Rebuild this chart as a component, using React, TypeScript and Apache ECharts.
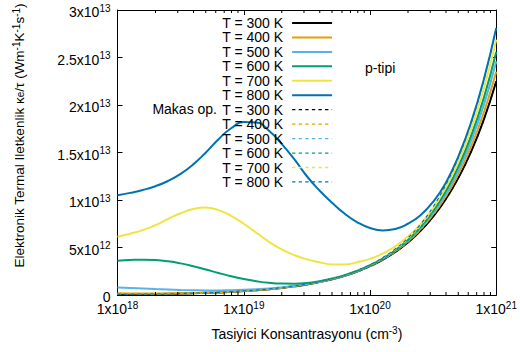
import { useEffect, useRef } from "react";
import * as echarts from "echarts";

// Carrier concentration grid (cm^-3), 0.1-decade steps from 1e18 to 1e21
const CONC = [
  1.0e18, 1.259e18, 1.585e18, 1.995e18, 2.512e18, 3.162e18, 3.981e18, 5.012e18, 6.31e18, 7.943e18,
  1.0e19, 1.259e19, 1.585e19, 1.995e19, 2.512e19, 3.162e19, 3.981e19, 5.012e19, 6.31e19, 7.943e19,
  1.0e20, 1.259e20, 1.585e20, 1.995e20, 2.512e20, 3.162e20, 3.981e20, 5.012e20, 6.31e20, 7.943e20,
  1.0e21,
];

// kappa_e / tau, in units of 1e13 W m^-1 K^-1 s^-1 (solid lines)
const K300 = [0.0055, 0.0067, 0.0082, 0.010, 0.0123, 0.015, 0.0183, 0.0224, 0.0274, 0.0335, 0.041, 0.050, 0.061, 0.075, 0.091, 0.111, 0.136, 0.166, 0.203, 0.248, 0.303, 0.371, 0.453, 0.553, 0.676, 0.826, 1.009, 1.233, 1.507, 1.841, 2.25];
const K400 = [0.018, 0.017, 0.016, 0.016, 0.017, 0.018, 0.020, 0.023, 0.027, 0.033, 0.041, 0.050, 0.061, 0.075, 0.092, 0.112, 0.137, 0.167, 0.204, 0.250, 0.306, 0.375, 0.459, 0.561, 0.688, 0.845, 1.036, 1.272, 1.561, 1.916, 2.351];
const K500 = [0.080, 0.074, 0.068, 0.062, 0.057, 0.053, 0.050, 0.048, 0.048, 0.050, 0.054, 0.060, 0.068, 0.080, 0.095, 0.115, 0.139, 0.169, 0.206, 0.252, 0.309, 0.379, 0.465, 0.570, 0.701, 0.864, 1.065, 1.313, 1.619, 1.994, 2.457];
const K600 = [0.360, 0.368, 0.372, 0.368, 0.355, 0.333, 0.303, 0.268, 0.232, 0.198, 0.168, 0.145, 0.128, 0.120, 0.119, 0.126, 0.146, 0.174, 0.209, 0.257, 0.313, 0.383, 0.470, 0.579, 0.713, 0.883, 1.092, 1.352, 1.673, 2.069, 2.558];
const K700 = [0.614, 0.645, 0.683, 0.735, 0.800, 0.860, 0.905, 0.920, 0.893, 0.833, 0.750, 0.655, 0.560, 0.480, 0.420, 0.375, 0.345, 0.322, 0.322, 0.345, 0.380, 0.435, 0.512, 0.615, 0.746, 0.918, 1.134, 1.405, 1.744, 2.165, 2.687];
const K800 = [1.05, 1.075, 1.105, 1.145, 1.20, 1.275, 1.375, 1.50, 1.64, 1.755, 1.82, 1.815, 1.73, 1.59, 1.43, 1.25, 1.10, 0.97, 0.855, 0.765, 0.705, 0.68, 0.695, 0.75, 0.84, 0.98, 1.18, 1.46, 1.815, 2.26, 2.81];

// "Makas op." (dashed lines)
const M300 = [0.0055, 0.0067, 0.0082, 0.010, 0.0123, 0.015, 0.0183, 0.0224, 0.0274, 0.0335, 0.041, 0.050, 0.061, 0.075, 0.091, 0.111, 0.136, 0.166, 0.203, 0.248, 0.303, 0.371, 0.453, 0.553, 0.676, 0.826, 1.009, 1.233, 1.507, 1.841, 2.25];
const M400 = [0.0056, 0.0068, 0.0083, 0.0101, 0.0124, 0.0151, 0.0184, 0.0226, 0.0276, 0.0337, 0.0413, 0.0504, 0.0614, 0.0755, 0.0916, 0.1118, 0.137, 0.167, 0.2045, 0.250, 0.306, 0.375, 0.459, 0.561, 0.688, 0.845, 1.036, 1.272, 1.561, 1.916, 2.351];
const M500 = [0.0056, 0.0068, 0.0083, 0.0102, 0.0125, 0.0152, 0.0186, 0.0227, 0.0278, 0.034, 0.0416, 0.0508, 0.062, 0.076, 0.092, 0.113, 0.138, 0.168, 0.206, 0.252, 0.309, 0.379, 0.465, 0.570, 0.701, 0.864, 1.065, 1.313, 1.619, 1.994, 2.457];
const M600 = [0.0056, 0.0069, 0.0084, 0.0102, 0.0126, 0.0153, 0.0187, 0.0229, 0.028, 0.0342, 0.0419, 0.0511, 0.0623, 0.0766, 0.093, 0.1134, 0.139, 0.1696, 0.2074, 0.254, 0.311, 0.383, 0.470, 0.579, 0.713, 0.883, 1.092, 1.352, 1.673, 2.069, 2.558];
const M700 = [0.0057, 0.0069, 0.0085, 0.0103, 0.0127, 0.0155, 0.0189, 0.0231, 0.0283, 0.0345, 0.0423, 0.0516, 0.0629, 0.0773, 0.0938, 0.1145, 0.1402, 0.1712, 0.2093, 0.257, 0.315, 0.388, 0.478, 0.590, 0.729, 0.907, 1.127, 1.401, 1.742, 2.164, 2.687];
const M800 = [0.0057, 0.007, 0.0085, 0.0104, 0.0128, 0.0156, 0.019, 0.0233, 0.0285, 0.0349, 0.0426, 0.052, 0.0634, 0.078, 0.0946, 0.1154, 0.1414, 0.1726, 0.2111, 0.259, 0.318, 0.393, 0.485, 0.600, 0.744, 0.929, 1.160, 1.449, 1.808, 2.255, 2.81];

const TEMPS = ["300", "400", "500", "600", "700", "800"];
const SOLID = [K300, K400, K500, K600, K700, K800];
const DASHED = [M300, M400, M500, M600, M700, M800];
const COLORS = ["#000000", "#e69f00", "#56b4e9", "#009e73", "#f0e442", "#0072b2"];

const MINOR_TICKS = [
  2e18, 3e18, 4e18, 5e18, 6e18, 7e18, 8e18, 9e18,
  2e19, 3e19, 4e19, 5e19, 6e19, 7e19, 8e19, 9e19,
  2e20, 3e20, 4e20, 5e20, 6e20, 7e20, 8e20, 9e20,
];

const FONT = "'Liberation Sans', Arial, sans-serif";
const SUP_RICH = {
  a: { fontSize: 14, fontFamily: FONT, color: "#000", lineHeight: 14, padding: [4, 0, 0, 0] },
  s: { fontSize: 10, fontFamily: FONT, color: "#000", lineHeight: 10, verticalAlign: "top" },
};

// legend sample icons (40 x 2 solid bar, dashed bar)
const ICON_SOLID = "path://M0,0H40V2H0Z";
const ICON_DASHED =
  "path://M0,0H3.3V1.3H0Z M6.6,0H9.9V1.3H6.6Z M13.2,0H16.5V1.3H13.2Z M19.8,0H23.1V1.3H19.8Z M26.4,0H29.7V1.3H26.4Z M33,0H36.3V1.3H33Z M39.6,0H40V1.3H39.6Z";

function powLabel(v: number): string {
  if (v === 0) return "{a|0}";
  const e = Math.floor(Math.log10(v) + 1e-9);
  const m = Math.round((v / Math.pow(10, e)) * 100) / 100;
  return `{a|${m}x10}{s|${e}}`;
}

export default function App() {
  const ref = useRef<HTMLDivElement>(null);
  useEffect(() => {
    if (!ref.current) return;
    const chart = echarts.init(ref.current, null, { renderer: "svg" });
    const solidNames = TEMPS.map((t) => `T = ${t} K`);
    const dashedNames = TEMPS.map((t) => `Makas T = ${t} K`);
    const series: any[] = [];
    TEMPS.forEach((_, i) => {
      series.push({
        type: "line",
        name: solidNames[i],
        data: CONC.map((x, j) => [x, SOLID[i][j]]),
        showSymbol: false,
        symbol: "none",
        smooth: true,
        lineStyle: { color: COLORS[i], width: 2 },
        itemStyle: { color: COLORS[i] },
      });
    });
    TEMPS.forEach((_, i) => {
      series.push({
        type: "line",
        name: dashedNames[i],
        data: CONC.map((x, j) => [x, DASHED[i][j]]),
        showSymbol: false,
        symbol: "none",
        smooth: true,
        lineStyle: { color: COLORS[i], width: 1.2, type: [3.3, 3.3] },
        itemStyle: { color: COLORS[i] },
      });
    });
    series.push({
      type: "custom",
      name: "minorTicks",
      silent: true,
      data: MINOR_TICKS.map((v) => [v, 0]),
      renderItem: (_p: any, api: any) => {
        const v = api.value(0);
        const b = api.coord([v, 0]);
        const t = api.coord([v, 3]);
        return {
          type: "group",
          children: [
            { type: "line", shape: { x1: b[0], y1: b[1], x2: b[0], y2: b[1] - 3 }, style: { stroke: "#000", lineWidth: 1 } },
            { type: "line", shape: { x1: t[0], y1: t[1], x2: t[0], y2: t[1] + 3 }, style: { stroke: "#000", lineWidth: 1 } },
          ],
        };
      },
      z: 5,
    });

    const axisLine = { show: true, onZero: false, lineStyle: { color: "#000", width: 1 } };
    chart.setOption({
      animation: false,
      backgroundColor: "#fff",
      grid: { left: 112, right: 21, top: 10, bottom: 57, containLabel: false },
      legend: {
        orient: "vertical",
        left: 222,
        top: 16,
        padding: 0,
        align: "right",
        itemWidth: 40,
        itemHeight: 14,
        itemGap: 0.45,
        symbolKeepAspect: true,
        itemStyle: { borderWidth: 0 },
        data: [
          ...solidNames.map((n) => ({ name: n, icon: ICON_SOLID })),
          ...dashedNames.map((n) => ({ name: n, icon: ICON_DASHED })),
        ],
        formatter: (name: string) => name.replace("Makas ", ""),
        textStyle: { fontSize: 14, fontFamily: FONT, color: "#000", lineHeight: 14, padding: [0, 4, 0, 0] },
        selectedMode: false,
      },
      xAxis: [
        {
          type: "log",
          logBase: 10,
          min: 1e18,
          max: 1e21,
          position: "bottom",
          axisLine,
          axisTick: { show: true, inside: true, length: 5, lineStyle: { color: "#000" } },
          splitLine: { show: false },
          axisLabel: { margin: 5, formatter: (v: number) => powLabel(v), rich: SUP_RICH },
          name: "{a|Tasiyici Konsantrasyonu (cm}{s|-3}{a|)}",
          nameLocation: "middle",
          nameGap: 30,
          nameTextStyle: { fontSize: 14, fontFamily: FONT, color: "#000", rich: SUP_RICH },
        },
        {
          type: "log",
          logBase: 10,
          min: 1e18,
          max: 1e21,
          position: "top",
          axisLine,
          axisTick: { show: true, inside: true, length: 5, lineStyle: { color: "#000" } },
          axisLabel: { show: false },
          splitLine: { show: false },
        },
      ],
      yAxis: [
        {
          type: "value",
          min: 0,
          max: 3,
          interval: 0.5,
          position: "left",
          axisLine,
          axisTick: { show: true, inside: true, length: 5, lineStyle: { color: "#000" } },
          splitLine: { show: false },
          axisLabel: { margin: 7, formatter: (v: number) => powLabel(v * 1e13), rich: SUP_RICH },
          name: "{a|Elektronik Termal Iletkenlik κ}{b|e}{a|/τ (Wm}{s|-1}{a|K}{s|-1}{a|s}{s|-1}{a|)}",
          nameLocation: "middle",
          nameGap: 92,
          nameRotate: 90,
          nameTextStyle: {
            color: "#000",
            fontSize: 13.5,
            fontFamily: FONT,
            padding: [0, 0, 0, 34],
            rich: {
              a: { fontSize: 13.5, fontFamily: FONT, color: "#000", lineHeight: 14, padding: [4, 0, 3, 0] },
              s: { fontSize: 10, fontFamily: FONT, color: "#000", lineHeight: 10, verticalAlign: "top" },
              b: { fontSize: 10, fontFamily: FONT, color: "#000", lineHeight: 10, verticalAlign: "bottom" },
            },
          },
        },
        {
          type: "value",
          min: 0,
          max: 3,
          interval: 0.5,
          position: "right",
          axisLine,
          axisTick: { show: true, inside: true, length: 5, lineStyle: { color: "#000" } },
          axisLabel: { show: false },
          splitLine: { show: false },
        },
      ],
      graphic: [
        {
          type: "text",
          x: 217,
          y: 109,
          style: { text: "Makas op.", align: "right", verticalAlign: "middle", fontSize: 14, fontFamily: FONT, fill: "#000" },
        },
        {
          type: "text",
          x: 365,
          y: 68,
          style: { text: "p-tipi", align: "left", verticalAlign: "middle", fontSize: 14, fontFamily: FONT, fill: "#000" },
        },
      ],
      series,
    });
    return () => chart.dispose();
  }, []);
  return <div ref={ref} style={{ position: "absolute", left: 0, top: 0, width: 520, height: 352 }} />;
}
